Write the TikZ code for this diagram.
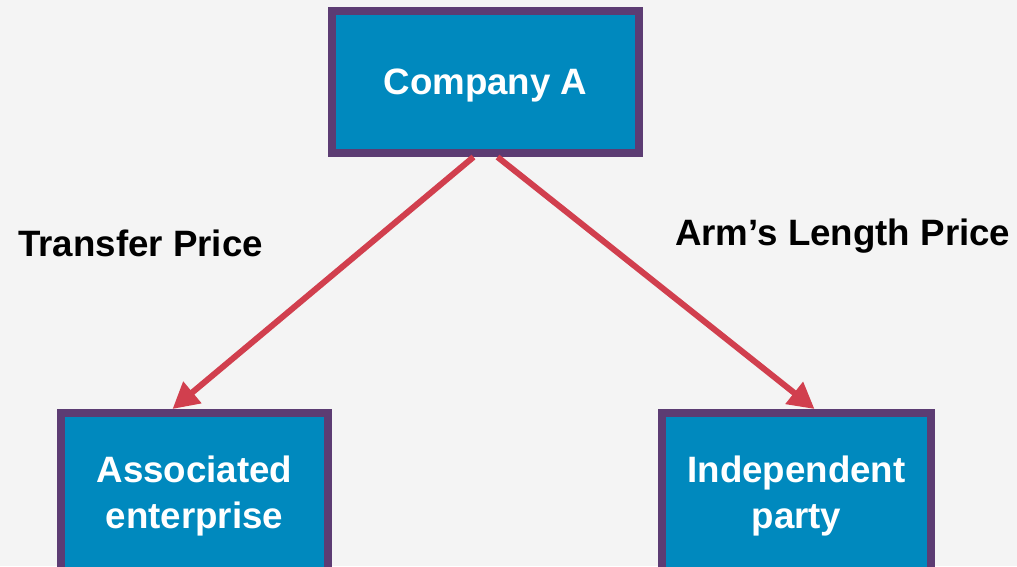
\documentclass[tikz,border=0pt]{standalone}
\usepackage{fontspec}
\setmainfont{Liberation Sans}
\usetikzlibrary{arrows.meta}
\definecolor{bgray}{RGB}{244,244,244}
\definecolor{boxblue}{RGB}{0,137,190}
\definecolor{boxpurple}{RGB}{92,60,115}
\definecolor{arrowred}{RGB}{209,63,78}
\begin{document}
\begin{tikzpicture}[x=1pt,y=-1pt]
    % \draw[step=50pt,help lines] (0,0) grid (1017,566);
    \tikzstyle{entity}=[draw=boxpurple,fill=boxblue,line width=8pt,text=white,text depth=0pt,
      font=\fontsize{36.7}{46}\selectfont\bfseries,align=center,inner sep=0pt]
    \tikzstyle{price}=[font=\fontsize{36.7}{46}\selectfont\bfseries,anchor=west,inner sep=0pt,text depth=0pt]
    \fill[bgray] (0,0) rectangle (1017,566);
    \clip (0,0) rectangle (1017,566);

    \node[entity,name=ca,minimum width=307pt,minimum height=142pt] at (485.5,82) {Company A};
    \node[entity,name=ae,minimum width=267pt,minimum height=158pt] at (194.5,492) {Associated\\enterprise};
    \node[entity,name=ip,minimum width=269pt,minimum height=158pt] at (796.5,492) {Independent\\party};

    \node[price,name=tp] at (18,243) {Transfer Price};
    \node[price,name=alp] at (675,232) {Arm’s Length Price};

    \draw[-{Triangle[length=26pt,width=27pt]},line width=6pt,arrowred]
      ([xshift=-12pt]ca.south) -- ([xshift=-22pt]ae.north);
    \draw[-{Triangle[length=26pt,width=27pt]},line width=6pt,arrowred]
      ([xshift=12pt]ca.south) -- ([xshift=18pt]ip.north);
  \end{tikzpicture}
\end{document}
